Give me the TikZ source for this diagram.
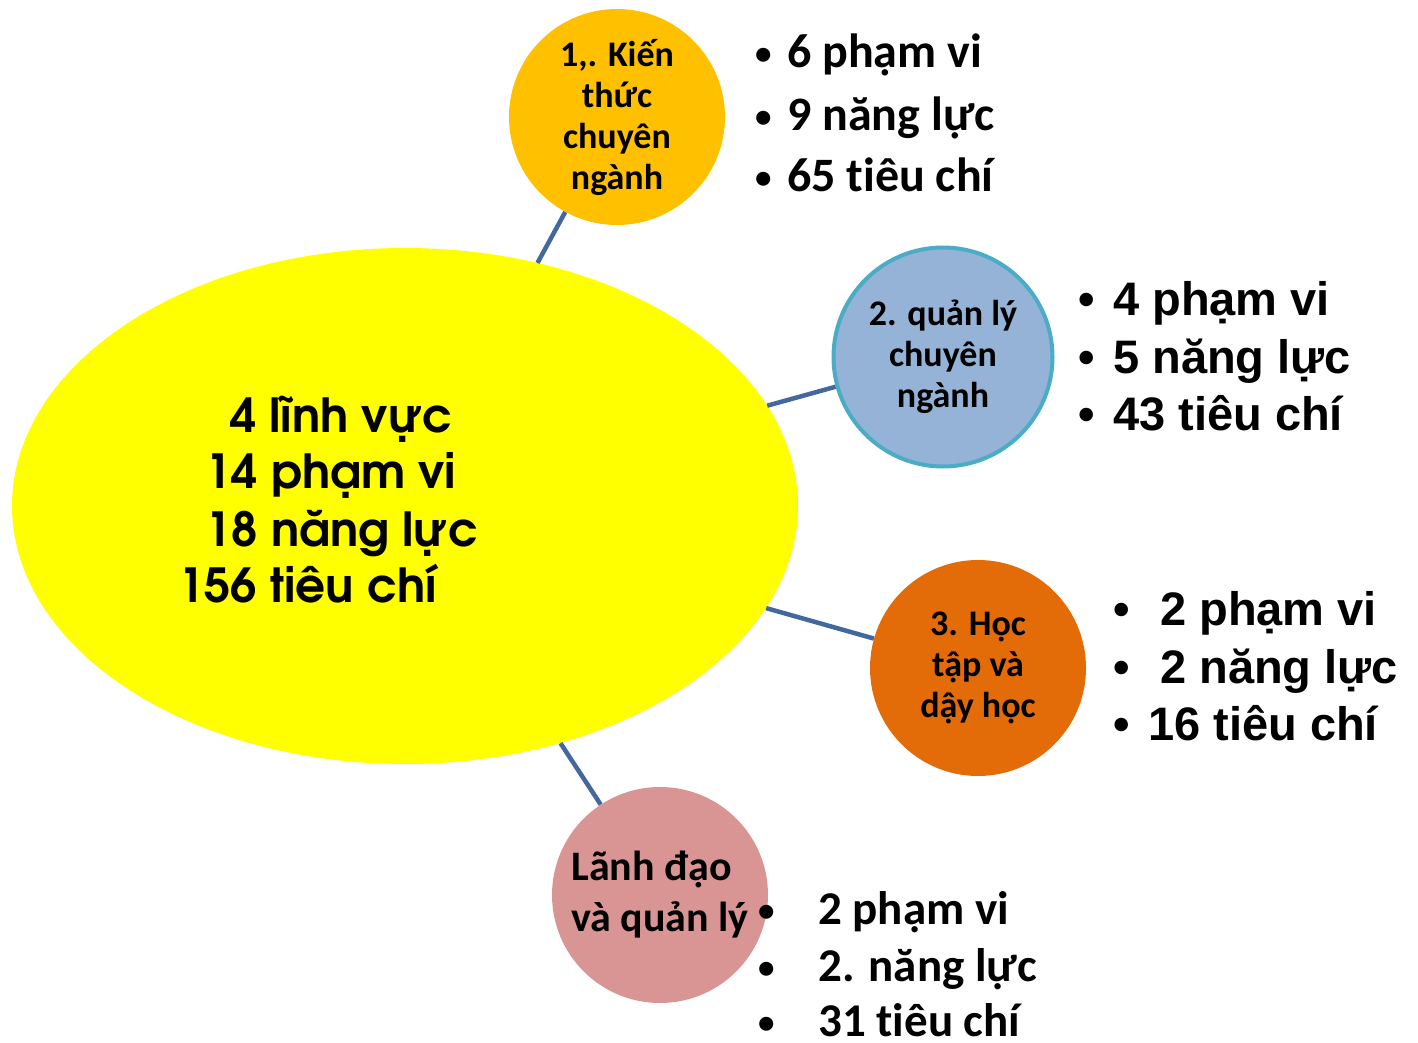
\documentclass[tikz,border=0pt]{standalone}
\usepackage{fontspec}
\setmainfont{Carlito}[Ligatures=NoCommon]
\newfontfamily\arialb{Liberation Sans}
\newfontfamily\gothic{TeX Gyre Adventor}
\usetikzlibrary{shapes.geometric}
\definecolor{coreyellow}{HTML}{FFFF00}
\definecolor{gold}{HTML}{FFC000}
\definecolor{skyfill}{HTML}{95B3D7}
\definecolor{skyrim}{HTML}{4BACC6}
\definecolor{rust}{HTML}{E36C09}
\definecolor{rose}{HTML}{D99594}
\definecolor{linkblue}{HTML}{43689E}
% bullet of full size (Arial lists)
\newcommand{\bul}[2]{\makebox[#1][l]{•}#2}
% smaller, raised bullet (Calibri lists)
\newcommand{\sbul}[2]{\makebox[#1][l]{\raisebox{3pt}{\fontsize{33}{33}\selectfont •}}#2}
\begin{document}
\begin{tikzpicture}[x=1pt,y=-1pt,
  bubble/.style={circle, inner sep=0pt, align=center, font=\bfseries\fontsize{36}{41}\selectfont},
  link/.style={draw=linkblue, line width=4.5pt},
  item/.style={anchor=base west, inner sep=0pt, font=\bfseries\fontsize{48}{58}\selectfont},
  aitem/.style={anchor=base west, inner sep=0pt, font=\arialb\bfseries\fontsize{47}{58}\selectfont},
  coretext/.style={anchor=base west, inner sep=0pt, font=\gothic\bfseries\fontsize{47}{57}\selectfont}]
\useasboundingbox (0,0) rectangle (1418,1043);

% central ellipse and the four areas
\node[ellipse, fill=coreyellow, minimum width=786pt, minimum height=516pt, inner sep=0pt] (core) at (405,506) {};
\node[bubble, fill=gold, minimum size=216pt] (k1) at (617,117) {1,. Kiến\\thức\\chuyên\\ngành};
\node[bubble, fill=skyfill, draw=skyrim, line width=4pt, minimum size=219pt] (k2) at (943,357) {2. quản lý\\chuyên\\ngành};
\node[bubble, fill=rust, minimum size=216pt] (k3) at (978,668) {3. Học\\tập và\\dậy học};
\node[bubble, fill=rose, minimum size=216pt, align=left,
      font=\bfseries\fontsize{42}{51}\selectfont] (k4) at (660,895) {Lãnh đạo\\và quản lý};

% connectors
\draw[link] (core) -- (k1);
\draw[link] (core) -- (k2);
\draw[link] (core) -- (k3);
\draw[link] (core) -- (k4);

% totals
\node[coretext] (t1) at (230,432) {4 lĩnh vực};
\node[coretext] (t2) at (205,488) {14 phạm vi};
\node[coretext] (t3) at (205,546) {18 năng lực};
\node[coretext] (t4) at (178,602) {156 tiêu chí};

% area 1
\node[item] (a1) at (755,68) {\sbul{32pt}{6 phạm vi}};
\node[item] (a2) at (755,131) {\sbul{32pt}{9 năng lực}};
\node[item] (a3) at (755,192) {\sbul{32pt}{65 tiêu chí}};

% area 2
\node[aitem] (b1) at (1078,315) {\bul{35pt}{4 phạm vi}};
\node[aitem] (b2) at (1078,373) {\bul{35pt}{5 năng lực}};
\node[aitem] (b3) at (1078,430) {\bul{35pt}{43 tiêu chí}};

% area 3
\node[aitem] (c1) at (1113,625) {\bul{47pt}{2 phạm vi}};
\node[aitem] (c2) at (1113,683) {\bul{47pt}{2 năng lực}};
\node[aitem] (c3) at (1113,740) {\bul{35pt}{16 tiêu chí}};

% area 4
\node[item, font=\bfseries\fontsize{47}{57}\selectfont] (d1) at (758,924) {\sbul{60pt}{2 phạm vi}};
\node[item, font=\bfseries\fontsize{47}{57}\selectfont] (d2) at (758,981) {\sbul{60pt}{2. năng lực}};
\node[item, font=\bfseries\fontsize{47}{57}\selectfont] (d3) at (758,1036) {\sbul{60pt}{31 tiêu chí}};
\end{tikzpicture}
\end{document}
